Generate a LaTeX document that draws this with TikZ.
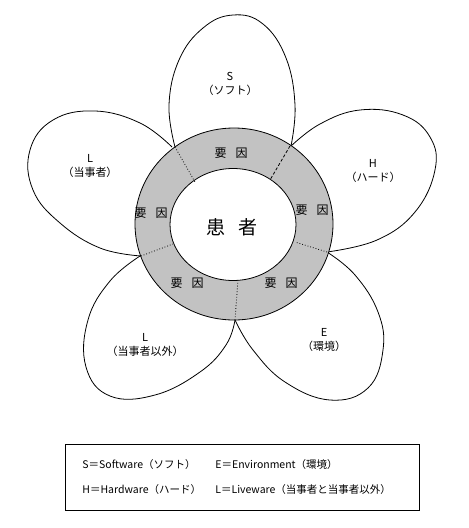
\documentclass[tikz,border=0pt]{standalone}
\usepackage{fontspec}
\setmainfont{Noto Sans CJK JP}
\usetikzlibrary{positioning}

\begin{document}
\begin{tikzpicture}[x=1pt,y=-1pt,line width=0.8pt,
		petal/.style={smooth, tension=0.7},
		ringfill/.style={fill=black!24, even odd rule},
		lab/.style={font=\fontsize{11}{14}\selectfont, align=center, inner sep=0pt},
		yoin/.style={font=\fontsize{12}{12}\selectfont, inner sep=0pt},
		legend/.style={font=\fontsize{10.5}{10.5}\selectfont, anchor=west, inner sep=0pt}]
			\useasboundingbox (0,0) rectangle (469,528);
			% 花弁
			\draw plot[petal] coordinates {(175,147) (169,105) (179,60) (203,28) (233,15) (263,24) (286,58) (295,105) (291,146)};
			\draw plot[petal] coordinates {(290,147) (320,124) (360,110) (403,115) (430,137) (435,170) (415,212) (377,240) (327,252)};
			\draw plot[petal] coordinates {(172,147) (140,123) (95,111) (53,120) (30,150) (33,190) (60,223) (100,248) (141,256)};
			\draw plot[petal] coordinates {(140,256) (110,281) (88,320) (86,367) (110,396) (155,395) (200,372) (226,345) (235,320)};
			\draw plot[petal] coordinates {(235,320) (253,350) (285,382) (330,400) (368,388) (383,350) (378,312) (355,275) (327,252)};
			% 要因の輪
			\filldraw[ringfill] (234,224) ellipse [x radius=99, y radius=96] (233,224.5) ellipse [x radius=63, y radius=56];
			\draw[dotted] (175,147) -- (195,182);
			\draw[densely dashed] (290,146) -- (270,180);
			\draw[dotted] (327,252) -- (295,242);
			\draw[dotted] (235,320) -- (238,280);
			\draw[dotted] (141,256) -- (173,244);
			\foreach \name/\x/\y in {t/231/153, r/312/210, l/151/213, bl/187/283, br/281/283} {
				\node[yoin] (yoin-\name) at (\x,\y) {要\hspace{9pt}因};
			}
			\node[font=\fontsize{19}{19}\selectfont, inner sep=0pt] (kanja) at (232,227) {患\hspace{13pt}者};
			% 花弁の文字
			\node[lab] (s) at (230,84) {S\\（ソフト）};
			\node[lab] (h) at (373,171) {H\\（ハード）};
			\node[lab] (l1) at (90,166) {L\\（当事者）};
			\node[lab] (l2) at (145,345) {L\\（当事者以外）};
			\node[lab] (e) at (324,340) {E\\（環境）};
			% 凡例
			\draw (65,444) rectangle (419,510);
			\node[legend] (leg-s) at (82,465) {S＝Software（ソフト）};
			\node[legend] (leg-h) at (82,490) {H＝Hardware（ハード）};
			\node[legend] (leg-e) at (215,465) {E＝Environment（環境）};
			\node[legend] (leg-l) at (215,490) {L＝Liveware（当事者と当事者以外）};
\end{tikzpicture}
\end{document}
